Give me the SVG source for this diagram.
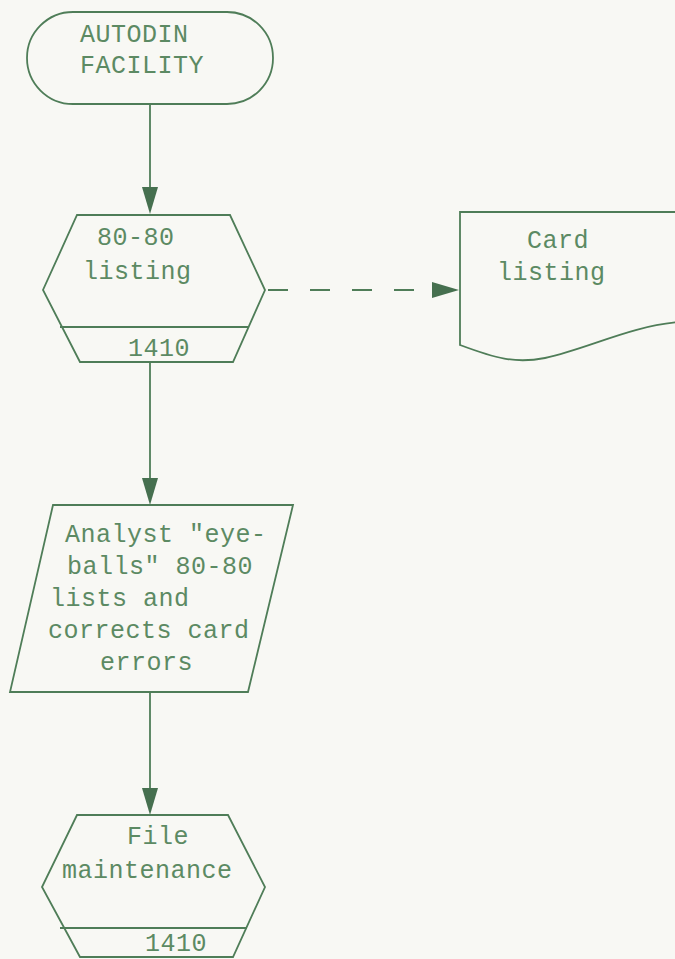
<svg xmlns="http://www.w3.org/2000/svg" width="675" height="959" viewBox="0 0 675 959">
<style>
.shape{fill:none;stroke:#4f7d58;stroke-width:1.8}
.conn{fill:none;stroke:#4f7d58;stroke-width:1.8}
.dash{stroke-dasharray:20 22}
.head{fill:#46704f;stroke:none}
text{font-family:"Liberation Mono","DejaVu Sans Mono",monospace;font-size:25px;letter-spacing:0.5px;fill:#5c8a63}
</style>
<rect width="675" height="959" fill="#f8f8f4"/>
<g id="connectors">
<line class="conn" x1="150" y1="104" x2="150" y2="192"/>
<polygon class="head" points="142,187 158,187 150,214"/>
<line class="conn" x1="150" y1="362" x2="150" y2="482"/>
<polygon class="head" points="142,478 158,478 150,505"/>
<line class="conn" x1="150" y1="692" x2="150" y2="792"/>
<polygon class="head" points="142,788 158,788 150,815"/>
<line class="conn dash" x1="268" y1="290" x2="414" y2="290"/>
<polygon class="head" points="432,282 432,298 459,290"/>
</g>
<g id="autodin">
<rect class="shape" x="27" y="12" width="246" height="92" rx="46" ry="46"/>
<text x="80" y="42">AUTODIN</text>
<text x="80" y="73">FACILITY</text>
</g>
<g id="listing8080">
<polygon class="shape" points="77,215 230,215 265,290 233,362 80,362 43,290"/>
<line class="shape" x1="60" y1="327" x2="249" y2="327"/>
<text x="97" y="245">80-80</text>
<text x="83" y="279">listing</text>
<text x="128" y="356">1410</text>
</g>
<g id="cardlisting">
<path class="shape" d="M680,212 L460,212 L460,345 C495,358 515,364 545,358 C590,348 630,326 680,322"/>
<text x="527" y="248">Card</text>
<text x="497" y="280">listing</text>
</g>
<g id="analyst">
<polygon class="shape" points="53,505 293,505 248,692 10,692"/>
<text x="65" y="542">Analyst "eye-</text>
<text x="67" y="574">balls" 80-80</text>
<text x="50" y="606">lists and</text>
<text x="48" y="638">corrects card</text>
<text x="100" y="670">errors</text>
</g>
<g id="filemaint">
<polygon class="shape" points="77,815 228,815 265,887 233,957 80,957 42,887"/>
<line class="shape" x1="60" y1="928" x2="247" y2="928"/>
<text x="127" y="844">File</text>
<text x="62" y="878">maintenance</text>
<text x="145" y="951">1410</text>
</g>
</svg>
